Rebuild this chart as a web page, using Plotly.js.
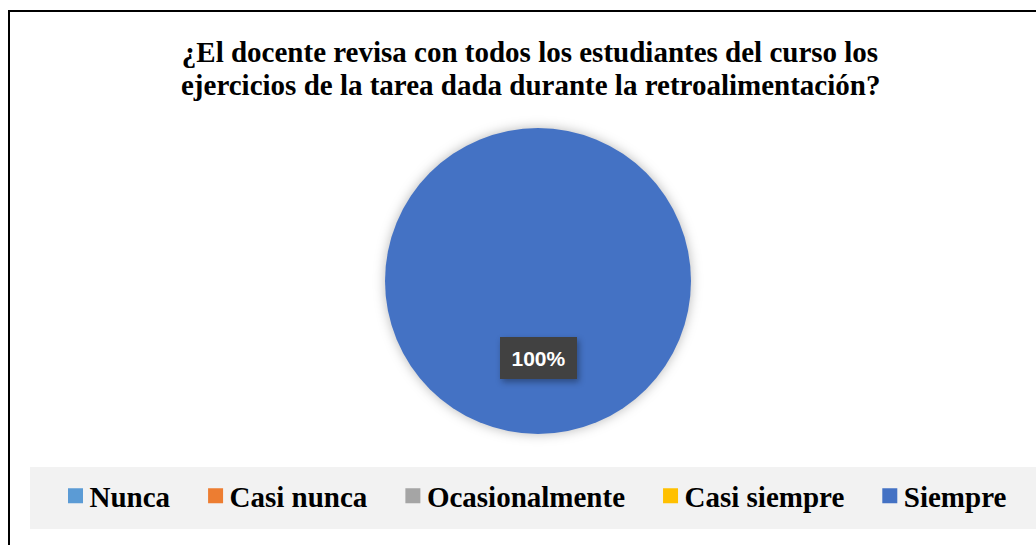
<!DOCTYPE html>
<html>
<head>
<meta charset="utf-8">
<script src="https://cdn.plot.ly/plotly-3.0.1.min.js"></script>
<style>
html,body{margin:0;padding:0;background:#fff;}
#chart{width:1036px;height:545px;}
.pielayer .slice path{filter:drop-shadow(0 0 6px rgba(0,0,0,0.28));}
.legend path.legendpie{transform:translate(26px,0px) scale(1.25);}
.annotation rect.bg{filter:drop-shadow(2px 3px 3px rgba(0,0,0,0.35));}
</style>
</head>
<body>
<div id="chart"></div>
<script>
var categories = ["Nunca", "Casi nunca", "Ocasionalmente", "Casi siempre", "Siempre"];
var values = [0, 0, 0, 0, 100];
var colors = ["#5B9BD5", "#ED7D31", "#A5A5A5", "#FFC000", "#4472C4"];
var titleLines = ["¿El docente revisa con todos los estudiantes del curso los",
                  "ejercicios de la tarea dada durante la retroalimentación?"];

var W = 1036, H = 545;
var titleFont = {family: "Liberation Serif", size: 29, color: "#000000", weight: "bold"};
var total = values.reduce(function(a,b){return a+b;},0);
var annots = [{
  text: titleLines[1], xref: "paper", yref: "paper",
  x: 530/W, xanchor: "center", y: 1-85/H, yanchor: "middle",
  showarrow: false, font: titleFont
}];
values.forEach(function(v,i){
  if(v>0){
    annots.push({
      text: Math.round(v/total*100) + "%",
      xref: "paper", yref: "paper",
      x: 538/W, y: 1-358/H, showarrow: false,
      font: {family: "Liberation Sans", size: 21, color: "#ffffff", weight: "bold"},
      bgcolor: "#414141", width: 77, height: 42, borderpad: 0, borderwidth: 0
    });
  }
});

var pad = "\u00a0\u00a0";
var data = [{
  type: "pie",
  labels: categories.map(function(c){return c + pad;}),
  values: values,
  marker: {colors: colors, line: {width: 0}},
  sort: false,
  direction: "clockwise",
  rotation: 0,
  textinfo: "none",
  hoverinfo: "label+percent",
  domain: {x: [385/W, 691/W], y: [1-434/H, 1-128/H]},
  showlegend: true
}];

var layout = {
  width: W, height: H,
  margin: {l: 0, r: 0, t: 0, b: 0},
  paper_bgcolor: "#ffffff",
  title: {
    text: titleLines[0],
    font: titleFont,
    x: 530/W, xanchor: "center",
    y: 1-52/H, yanchor: "middle", yref: "container"
  },
  showlegend: true,
  legend: {
    orientation: "h",
    x: 49.5/W, xanchor: "left",
    y: 1-496/H, yanchor: "middle",
    bgcolor: "rgba(0,0,0,0)",
    font: {family: "Liberation Serif", size: 29, color: "#000000", weight: "bold"},
    traceorder: "normal",
    itemclick: false
  },
  annotations: annots,
  shapes: [
    {type: "rect", xref: "paper", yref: "paper", x0: 30/W, x1: 1.01, y0: 1-529/H, y1: 1-467/H,
     fillcolor: "#F2F2F2", line: {width: 0}, layer: "below"},
    {type: "rect", xref: "paper", yref: "paper", x0: 9/W, x1: 1.02, y0: -0.02, y1: 1-11/H,
     fillcolor: "rgba(0,0,0,0)", line: {color: "#000000", width: 2}, layer: "above"}
  ]
};

Plotly.newPlot("chart", data, layout, {displayModeBar: false, staticPlot: true});
</script>
</body>
</html>
